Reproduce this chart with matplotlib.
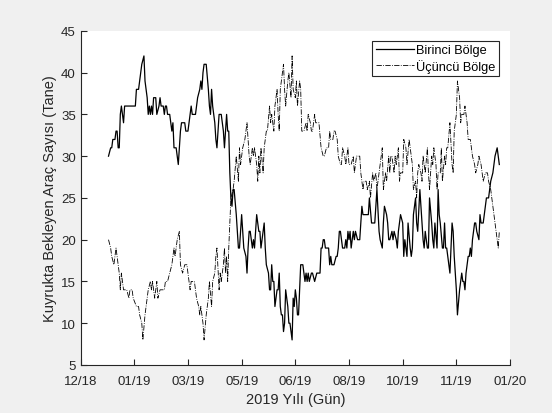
import numpy as np
import matplotlib
matplotlib.use("Agg")
import matplotlib.pyplot as plt
import matplotlib.dates as mdates

plt.rcParams['font.family'] = ['Liberation Sans', 'DejaVu Sans']

# gün numarası (2019-01-01 = 0) ve değerler
birinci_gun = [0, 2, 3, 4, 6, 7, 8, 9, 10, 11, 12, 14, 15, 19, 22, 25, 26, 28, 30, 31,
               33, 34, 36, 37, 38, 39, 40, 41, 42, 44, 45, 47, 48, 49, 51, 52, 53, 54, 55, 57,
               58, 59, 60, 61, 63, 64, 65, 66, 67, 68, 70, 71, 72, 73, 74, 75, 77, 78, 80, 81,
               83, 85, 86, 87, 88, 89, 90, 91, 93, 94, 95, 96, 97, 99, 100, 101, 103, 104, 105, 107,
               108, 109, 110, 111, 112, 113, 114, 115, 116, 117, 119, 120, 121, 122, 124, 125, 126, 128, 129, 130,
               131, 132, 133, 134, 135, 136, 138, 139, 140, 141, 142, 143, 145, 146, 147, 149, 150, 151, 152, 153,
               154, 155, 157, 158, 159, 160, 161, 162, 163, 164, 165, 167, 168, 169, 171, 172, 173, 174, 175, 176,
               177, 178, 179, 180, 181, 183, 184, 185, 186, 187, 189, 190, 192, 194, 196, 197, 198, 199, 200, 201,
               202, 203, 205, 206, 207, 208, 209, 210, 212, 213, 214, 215, 216, 218, 219, 220, 221, 222, 223, 224,
               225, 226, 228, 229, 230, 232, 233, 234, 236, 237, 238, 240, 242, 243, 245, 246, 247, 248, 250, 252,
               253, 255, 256, 257, 259, 260, 261, 262, 264, 265, 266, 268, 269, 270, 272, 274, 275, 276, 277, 278,
               279, 281, 282, 283, 284, 286, 287, 288, 290, 292, 293, 294, 295, 297, 298, 299, 301, 302, 303, 304,
               306, 307, 308, 309, 311, 312, 313, 314, 315, 316, 318, 320, 321, 322, 324, 325, 327, 328, 329, 330,
               331, 332, 333, 335, 336, 337, 338, 339, 341, 342, 343, 345, 346, 347, 348, 349, 351, 352, 354, 356,
               358, 359, 360, 362, 363, 364]
birinci = [30, 31, 31, 32, 32, 33, 33, 31, 31, 35, 36, 34, 36, 36, 36, 36, 38, 38, 40, 41,
           42, 39, 37, 35, 36, 35, 36, 35, 37, 37, 35, 36, 37, 36, 36, 35, 36, 36, 35, 35,
           34, 33, 34, 31, 31, 30, 29, 31, 33, 34, 34, 34, 33, 33, 33, 34, 36, 35, 35, 35,
           37, 38, 39, 38, 40, 41, 41, 41, 38, 36, 35, 38, 36, 34, 32, 31, 35, 35, 35, 33,
           31, 33, 35, 33, 33, 28, 25, 24, 26, 26, 23, 21, 19, 19, 23, 21, 19, 18, 16, 19,
           21, 21, 20, 19, 20, 19, 23, 22, 21, 21, 19, 20, 22, 19, 17, 16, 14, 14, 17, 15,
           15, 12, 14, 14, 16, 12, 11, 11, 9, 10, 14, 12, 10, 10, 8, 13, 12, 14, 13, 11,
           11, 14, 17, 17, 17, 15, 16, 15, 16, 15, 16, 16, 15, 16, 16, 16, 19, 19, 20, 20,
           19, 19, 19, 17, 18, 17, 17, 17, 18, 18, 19, 21, 21, 19, 19, 19, 20, 19, 21, 20,
           21, 19, 21, 20, 21, 20, 20, 20, 24, 23, 23, 23, 23, 25, 22, 22, 22, 22, 26, 21,
           20, 19, 22, 24, 23, 22, 20, 20, 21, 20, 21, 20, 19, 21, 23, 22, 18, 20, 19, 18,
           22, 19, 18, 19, 23, 25, 22, 21, 26, 22, 20, 19, 21, 19, 19, 25, 22, 20, 19, 22,
           19, 26, 23, 22, 19, 19, 22, 19, 19, 18, 16, 22, 21, 18, 14, 11, 14, 15, 16, 15,
           15, 14, 16, 18, 18, 19, 18, 20, 22, 22, 21, 20, 23, 22, 22, 22, 24, 25, 25, 27,
           28, 29, 30, 31, 30, 29]

ucuncu_gun = [0, 2, 3, 5, 7, 9, 10, 11, 12, 14, 16, 17, 19, 20, 22, 23, 26, 28, 29, 31,
              32, 34, 36, 37, 39, 40, 41, 43, 44, 45, 46, 48, 50, 52, 53, 55, 57, 59, 61, 62,
              64, 66, 67, 69, 71, 73, 74, 76, 77, 79, 80, 82, 84, 85, 86, 88, 89, 91, 93, 94,
              96, 97, 99, 100, 101, 103, 104, 105, 107, 108, 109, 110, 111, 112, 113, 114, 116, 117, 119, 121,
              122, 123, 125, 127, 129, 131, 132, 134, 135, 136, 138, 139, 140, 141, 142, 144, 145, 147, 148, 150,
              151, 152, 154, 155, 157, 158, 159, 160, 161, 163, 164, 165, 167, 168, 170, 171, 172, 174, 175, 176,
              178, 179, 180, 182, 184, 185, 186, 188, 189, 190, 192, 193, 195, 196, 198, 200, 201, 203, 205, 206,
              207, 209, 210, 211, 213, 214, 216, 217, 218, 220, 221, 223, 224, 226, 228, 229, 231, 234, 235, 237,
              238, 240, 241, 243, 244, 246, 247, 249, 250, 251, 253, 255, 256, 258, 259, 261, 262, 263, 264, 266,
              267, 268, 270, 271, 272, 274, 275, 277, 278, 280, 282, 283, 284, 286, 287, 288, 289, 291, 292, 293,
              295, 297, 298, 299, 301, 302, 303, 305, 306, 307, 309, 310, 311, 313, 314, 315, 316, 318, 320, 321,
              322, 324, 325, 327, 328, 329, 331, 332, 334, 335, 337, 338, 339, 341, 342, 344, 345, 347, 348, 349,
              351, 353, 354, 356, 358, 360, 362, 363, 364]
ucuncu = [20, 19, 18, 17, 19, 17, 16, 14, 16, 14, 14, 14, 13, 14, 14, 13, 12, 12, 11, 10,
          8, 11, 13, 14, 15, 14, 15, 13, 14, 15, 13, 14, 14, 14, 15, 15, 16, 17, 19, 18,
          20, 21, 17, 16, 17, 17, 16, 14, 15, 15, 15, 13, 12, 11, 12, 10, 8, 11, 13, 15,
          12, 15, 16, 18, 19, 14, 16, 15, 17, 19, 16, 18, 15, 19, 22, 25, 26, 27, 30, 27,
          31, 29, 31, 32, 34, 30, 29, 31, 30, 31, 29, 27, 30, 28, 31, 28, 31, 33, 33, 36,
          34, 35, 33, 36, 38, 35, 33, 38, 39, 41, 38, 36, 39, 40, 37, 42, 38, 37, 39, 36,
          39, 38, 33, 33, 34, 33, 35, 34, 33, 33, 35, 34, 34, 34, 31, 30, 30, 31, 31, 33,
          32, 32, 33, 33, 32, 30, 29, 29, 31, 30, 29, 31, 29, 29, 30, 28, 30, 30, 28, 26,
          27, 27, 26, 27, 25, 28, 27, 28, 26, 27, 29, 31, 26, 28, 27, 30, 28, 30, 30, 28,
          30, 29, 31, 27, 28, 28, 32, 31, 29, 32, 30, 29, 26, 27, 25, 28, 29, 28, 27, 30,
          28, 31, 28, 26, 30, 29, 31, 29, 26, 28, 28, 31, 27, 30, 29, 31, 31, 34, 29, 28,
          33, 35, 39, 37, 34, 35, 35, 36, 34, 32, 32, 31, 30, 29, 28, 29, 30, 29, 28, 27,
          28, 28, 27, 26, 24, 22, 20, 19, 21]

seri_adlari = ['Birinci Bölge', 'Üçüncü Bölge']
yil_basi = mdates.date2num(np.datetime64('2019-01-01'))

koyu = '#262626'
fig = plt.figure(figsize=(5.52, 4.14), dpi=100, facecolor='#f0f0f0')
ax = fig.add_axes([0.146, 0.116, 0.778, 0.807])

ax.plot(yil_basi + np.array(birinci_gun), birinci, '-', color='k', lw=0.9, label=seri_adlari[0])
ax.plot(yil_basi + np.array(ucuncu_gun), ucuncu, '-.', color='k', lw=0.6, label=seri_adlari[1])

x0 = yil_basi - 26
ax.set_xlim(x0, x0 + 400)
ax.set_xticks(x0 + np.arange(0, 401, 50))
ax.xaxis.set_major_formatter(mdates.DateFormatter('%m/%y'))
ax.set_ylim(5, 45)
ax.set_yticks(np.arange(5, 46, 5))

for s in ['top', 'right']:
    ax.spines[s].set_visible(False)
for s in ['left', 'bottom']:
    ax.spines[s].set_color(koyu)
    ax.spines[s].set_linewidth(0.8)
ax.tick_params(direction='in', length=4, width=0.8, color=koyu, labelcolor=koyu, labelsize=9.5)
ax.tick_params(axis='x', pad=7)

ax.set_xlabel('2019 Yılı (Gün)', fontsize=10.5, color=koyu, labelpad=4)
ax.set_ylabel('Kuyrukta Bekleyen Araç Sayısı (Tane)', fontsize=10.5, color=koyu, labelpad=3)

leg = ax.legend(loc='upper right', bbox_to_anchor=(1 - 11 / 430, 1 - 10 / 334), borderaxespad=0,
                fancybox=False, framealpha=1, edgecolor=koyu, fontsize=9.2,
                handlelength=3.0, handletextpad=0.2, borderpad=0.25, labelspacing=0.2)
leg.get_frame().set_linewidth(0.8)

fig.savefig('out.png', dpi=100, facecolor=fig.get_facecolor())
